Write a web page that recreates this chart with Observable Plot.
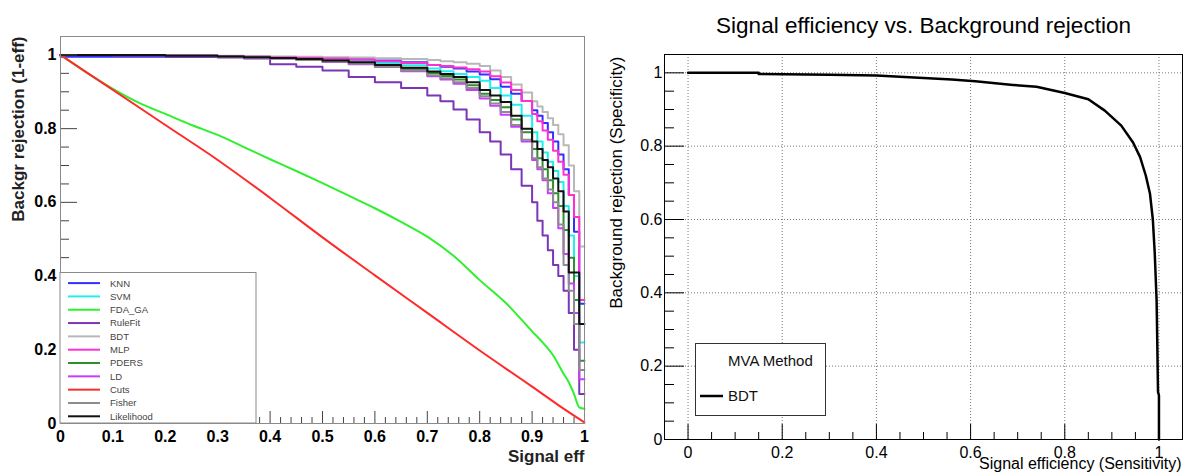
<!DOCTYPE html>
<html><head><meta charset="utf-8">
<script src="https://cdn.jsdelivr.net/npm/d3@7"></script>
<script src="https://cdn.jsdelivr.net/npm/@observablehq/plot@0.6"></script>
<style>
body{margin:0;background:#fff;}
#wrap{position:relative;width:1187px;height:474px;overflow:hidden;background:#fff;font-family:"Liberation Sans",Arial,Helvetica,sans-serif;}
#left{position:absolute;left:0;top:0;}
#right{position:absolute;left:600px;top:0;}
</style></head>
<body><div id="wrap"><div id="left"></div><div id="right"></div></div>
<script>
// ---------- data: left chart (TMVA ROC curves) ----------
const methods = ["KNN","SVM","FDA_GA","RuleFit","BDT","MLP","PDERS","LD","Cuts","Fisher","Likelihood"];
const methodColors = ["#3030ff","#22eeee","#2ef02e","#7b35b5","#b8b8b8","#ff30d0","#2f8f2f","#c83cff","#ff2a2a","#8c8c8c","#111111"];

const effGrid = [0, 0.1, 0.2, 0.3, 0.35, 0.4, 0.45, 0.5, 0.55, 0.6, 0.65, 0.7, 0.725, 0.75, 0.775, 0.8, 0.82, 0.84, 0.86, 0.88, 0.9, 0.91, 0.92, 0.93, 0.94, 0.95, 0.96, 0.97, 0.98, 0.99, 1.0];
const knnRej        = [0.995,0.995,0.995,0.995,0.995,0.993,0.992,0.99,0.988,0.985,0.98,0.973,0.968,0.963,0.955,0.947,0.934,0.914,0.895,0.875,0.85,0.835,0.815,0.79,0.765,0.73,0.69,0.62,0.52,0.325,0.325];
const svmRej        = [1,1,0.998,0.996,0.995,0.993,0.991,0.988,0.984,0.978,0.972,0.963,0.956,0.948,0.94,0.93,0.91,0.89,0.865,0.835,0.79,0.765,0.735,0.71,0.685,0.655,0.59,0.51,0.40,0.22,0.22];
const ruleFitRej    = [1,0.998,0.995,0.993,0.99,0.975,0.968,0.958,0.94,0.926,0.91,0.89,0.874,0.852,0.825,0.79,0.765,0.73,0.69,0.645,0.60,0.55,0.51,0.47,0.43,0.40,0.36,0.30,0.20,0.08,0.08];
const bdtRej        = [1,1,0.999,0.998,0.997,0.996,0.995,0.994,0.993,0.991,0.989,0.986,0.983,0.98,0.976,0.97,0.958,0.94,0.92,0.898,0.874,0.86,0.845,0.828,0.81,0.785,0.755,0.70,0.63,0.48,0.48];
const mlpRej        = [1,1,0.998,0.996,0.995,0.993,0.992,0.99,0.987,0.983,0.978,0.973,0.97,0.966,0.961,0.955,0.942,0.925,0.905,0.875,0.84,0.82,0.795,0.77,0.74,0.71,0.675,0.62,0.56,0.335,0.335];
const pdersRej      = [1,1,0.998,0.996,0.994,0.991,0.988,0.984,0.978,0.97,0.962,0.951,0.943,0.933,0.918,0.895,0.878,0.858,0.825,0.79,0.745,0.72,0.69,0.66,0.625,0.59,0.525,0.45,0.335,0.17,0.17];
const ldRej         = [1,1,0.998,0.995,0.993,0.99,0.986,0.981,0.975,0.967,0.956,0.942,0.933,0.922,0.905,0.882,0.862,0.838,0.805,0.765,0.715,0.69,0.66,0.625,0.585,0.53,0.46,0.38,0.30,0.12,0.12];
const fisherRej     = [1,1,0.998,0.995,0.993,0.99,0.986,0.982,0.976,0.968,0.958,0.945,0.937,0.926,0.91,0.888,0.868,0.845,0.81,0.77,0.72,0.695,0.665,0.635,0.60,0.54,0.43,0.36,0.27,0.145,0.145];
const likelihoodRej = [1,1,0.998,0.996,0.994,0.992,0.989,0.985,0.98,0.973,0.965,0.955,0.948,0.94,0.926,0.905,0.89,0.872,0.835,0.80,0.765,0.745,0.715,0.695,0.665,0.63,0.575,0.41,0.41,0.27,0.27];

const fdaEff = [0,0.05,0.1,0.15,0.2,0.25,0.3,0.35,0.4,0.45,0.5,0.55,0.6,0.65,0.7,0.75,0.8,0.85,0.9,0.92,0.94,0.96,0.97,0.98,0.99,1.0];
const fdaRej = [1,0.952,0.908,0.87,0.84,0.81,0.783,0.75,0.717,0.685,0.652,0.618,0.584,0.547,0.507,0.455,0.389,0.327,0.25,0.22,0.185,0.135,0.112,0.08,0.044,0.04];
const cutsEff = [0,0.1,0.2,0.3,0.4,0.5,0.6,0.7,0.8,0.9,0.95,1.0];
const cutsRej = [1,0.905,0.81,0.715,0.612,0.505,0.402,0.3,0.198,0.1,0.05,0.003];

const xTicksL = [0,0.1,0.2,0.3,0.4,0.5,0.6,0.7,0.8,0.9,1];
const xLabelsL = ["0","0.1","0.2","0.3","0.4","0.5","0.6","0.7","0.8","0.9","1"];
const yTicksL = [0,0.2,0.4,0.6,0.8,1];
const yLabelsL = ["0","0.2","0.4","0.6","0.8","1"];

// ---------- data: right chart (BDT ROC) ----------
const bdtREff = [0,0.15,0.15,0.3,0.4,0.47,0.56,0.61,0.69,0.74,0.8,0.85,0.885,0.92,0.945,0.96,0.972,0.981,0.987,0.991,0.995,0.996,0.998,1.0,1.0];
const bdtRRej = [1,1,0.997,0.995,0.993,0.988,0.982,0.977,0.967,0.962,0.945,0.928,0.897,0.856,0.81,0.77,0.72,0.67,0.60,0.51,0.38,0.30,0.13,0.12,0];
const xTicksR = [0,0.2,0.4,0.6,0.8,1];
const xLabelsR = ["0","0.2","0.4","0.6","0.8","1"];
const yTicksR = [0,0.2,0.4,0.6,0.8,1];
const yLabelsR = ["0","0.2","0.4","0.6","0.8","1"];

// ---------- build rows ----------
const stepSeries = {KNN: knnRej, SVM: svmRej, RuleFit: ruleFitRej, BDT: bdtRej, MLP: mlpRej, PDERS: pdersRej, LD: ldRej, Fisher: fisherRej, Likelihood: likelihoodRej};
const lineSeries = {FDA_GA: [fdaEff, fdaRej], Cuts: [cutsEff, cutsRej]};
const colorOf = m => methodColors[methods.indexOf(m)];

const FONT = "Liberation Sans, Arial, Helvetica, sans-serif";

// ---------- left plot ----------
const WL = 600, HL = 474, mlT = 36, mlR = 16, mlB = 51, mlL = 60;
const fwL = WL - mlL - mlR, fhL = HL - mlT - mlB;
const yMinorL = d3.range(0, 1.001, 0.05).filter(v => Math.abs(v*5 - Math.round(v*5)) > 1e-6);
const xMinorL = d3.range(0, 1.001, 0.02).filter(v => Math.abs(v*10 - Math.round(v*10)) > 1e-6);

const curveMarks = methods.map(m => {
  if (stepSeries[m]) {
    const rows = effGrid.map((e, i) => ({eff: e, rej: stepSeries[m][i]}));
    return Plot.line(rows, {x: "eff", y: "rej", stroke: colorOf(m), strokeWidth: 2, curve: "step-after"});
  } else {
    const [ex, ry] = lineSeries[m];
    const rows = ex.map((e, i) => ({eff: e, rej: ry[i]}));
    return Plot.line(rows, {x: "eff", y: "rej", stroke: colorOf(m), strokeWidth: 2, curve: "monotone-x"});
  }
});

const leftPlot = Plot.plot({
  width: WL, height: HL,
  marginTop: mlT, marginRight: mlR, marginBottom: mlB, marginLeft: mlL,
  style: {fontFamily: FONT, fontSize: "16px", fontWeight: "bold", background: "transparent", overflow: "visible", color: "#000"},
  x: {domain: [0, 1]},
  y: {domain: [0, 1.05]},
  marks: [
    ...curveMarks,
    Plot.ruleY(yMinorL, {stroke: "#444", insetRight: fwL - 9}),
    Plot.ruleY(yTicksL, {stroke: "#444", insetRight: fwL - 17}),
    Plot.ruleX(xMinorL, {stroke: "#444", insetTop: fhL - 6}),
    Plot.ruleX(xTicksL, {stroke: "#444", insetTop: fhL - 12}),
    Plot.axisX(xTicksL, {tickSize: 0, tickPadding: 7, label: null, fontWeight: "bold", fontSize: 16,
      tickFormat: d => xLabelsL[xTicksL.indexOf(d)]}),
    Plot.axisY(yTicksL, {tickSize: 0, tickPadding: 4, label: null, fontWeight: "bold", fontSize: 16,
      tickFormat: d => yLabelsL[yTicksL.indexOf(d)]}),
    Plot.frame({stroke: "#8a8a8a"}),
    Plot.text(["Backgr rejection (1-eff)"], {text: d => d, frameAnchor: "top-left", rotate: -90, textAnchor: "end",
      lineAnchor: "bottom", dx: -37, dy: 0, fontSize: 17, fontWeight: "bold", fill: "#222"}),
    Plot.text(["Signal eff"], {text: d => d, frameAnchor: "bottom-right", textAnchor: "end",
      lineAnchor: "bottom", dy: 38, fontSize: 17, fontWeight: "bold", fill: "#222"})
  ]
});
document.getElementById("left").appendChild(leftPlot);

// ---------- right plot ----------
const WR = 587, HR = 474, mrT = 54, mrR = 5, mrB = 35, mrL = 64;
const fwR = WR - mrL - mrR, fhR = HR - mrT - mrB;
const minorR = d3.range(0, 1.001, 0.05).filter(v => Math.abs(v*5 - Math.round(v*5)) > 1e-6);
const bdtRows = bdtREff.map((e, i) => ({eff: e, rej: bdtRRej[i]}));

const rightPlot = Plot.plot({
  width: WR, height: HR,
  marginTop: mrT, marginRight: mrR, marginBottom: mrB, marginLeft: mrL,
  style: {fontFamily: FONT, fontSize: "16px", background: "transparent", overflow: "visible", color: "#000"},
  x: {domain: [-0.05, 1.05]},
  y: {domain: [0, 1.05]},
  marks: [
    Plot.gridX(xTicksR, {stroke: "#777", strokeOpacity: 1, strokeDasharray: "1,2"}),
    Plot.gridY(yTicksR, {stroke: "#777", strokeOpacity: 1, strokeDasharray: "1,2"}),
    Plot.line(bdtRows, {x: "eff", y: "rej", stroke: "#000", strokeWidth: 2.5}),
    Plot.ruleY(minorR, {stroke: "#000", insetRight: fwR - 10}),
    Plot.ruleY(yTicksR, {stroke: "#000", insetRight: fwR - 20}),
    Plot.ruleX(minorR, {stroke: "#000", insetTop: fhR - 7}),
    Plot.ruleX(xTicksR, {stroke: "#000", insetTop: fhR - 15}),
    Plot.axisX(xTicksR, {tickSize: 0, tickPadding: 7, label: null, fontSize: 16,
      tickFormat: d => xLabelsR[xTicksR.indexOf(d)]}),
    Plot.axisY(yTicksR, {tickSize: 0, tickPadding: 2, label: null, fontSize: 16,
      tickFormat: d => yLabelsR[yTicksR.indexOf(d)]}),
    Plot.frame({stroke: "#000"}),
    Plot.text(["Signal efficiency vs. Background rejection"], {text: d => d, frameAnchor: "top",
      lineAnchor: "bottom", dy: -21.3, fontSize: 22.5}),
    Plot.text(["Background rejection (Specificity)"], {text: d => d, frameAnchor: "top-left", rotate: -90,
      textAnchor: "end", lineAnchor: "bottom", dx: -43, dy: 2, fontSize: 17}),
    Plot.text(["Signal efficiency (Sensitivity)"], {text: d => d, frameAnchor: "bottom-right",
      textAnchor: "end", lineAnchor: "bottom", dx: -1, dy: 29.3, fontSize: 16})
  ]
});
document.getElementById("right").appendChild(rightPlot);

// ---------- legends ----------
const ov = d3.select("#wrap").append("svg")
  .attr("width", 1187).attr("height", 474)
  .style("position", "absolute").style("left", 0).style("top", 0)
  .style("pointer-events", "none").style("font-family", FONT);

ov.append("rect").attr("x", 60).attr("y", 272.5).attr("width", 196).attr("height", 150.5)
  .attr("fill", "#fff").attr("stroke", "#8a8a8a");
methods.forEach((m, i) => {
  const cy = 283.1 + i * 13.32;
  ov.append("line").attr("x1", 68).attr("x2", 100).attr("y1", cy).attr("y2", cy)
    .attr("stroke", methodColors[i]).attr("stroke-width", 2);
  ov.append("text").attr("x", 110).attr("y", cy + 3.4).attr("font-size", 9.5)
    .attr("fill", "#444").text(m);
});

ov.append("rect").attr("x", 695.5).attr("y", 343.5).attr("width", 130).attr("height", 72)
  .attr("fill", "#fff").attr("stroke", "#333");
ov.append("text").attr("x", 728).attr("y", 366).attr("font-size", 15).attr("fill", "#111").text("MVA Method");
ov.append("line").attr("x1", 700).attr("x2", 723).attr("y1", 396).attr("y2", 396)
  .attr("stroke", "#000").attr("stroke-width", 2.5);
ov.append("text").attr("x", 728).attr("y", 401).attr("font-size", 15).attr("fill", "#111").text("BDT");
</script>
</body></html>
